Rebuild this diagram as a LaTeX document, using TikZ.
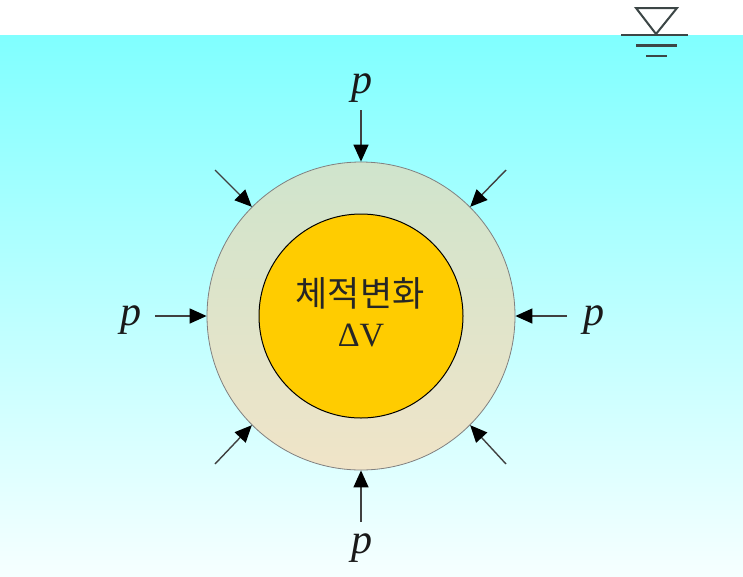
\documentclass[tikz,border=0pt]{standalone}
\usepackage{fontspec}
\setmainfont{Liberation Serif}
\newfontfamily\krfont{Noto Sans CJK KR}
\usetikzlibrary{arrows.meta}
\definecolor{watertop}{HTML}{80FFFF}
\definecolor{waterbot}{HTML}{F6FFFF}
\definecolor{ringtop}{HTML}{CFE4CC}
\definecolor{ringbot}{HTML}{F0E4C8}
\definecolor{core}{HTML}{FFCC00}
\definecolor{symb}{HTML}{3C4646}
\definecolor{arrline}{HTML}{404040}
\tikzset{
  arr/.style={draw=arrline, line width=1.4pt, -{Triangle[length=17pt,width=15pt,color=black]}},
  plabel/.style={font=\fontsize{42}{46}\selectfont\itshape, inner sep=0pt, text=black!90},
  wline/.style={draw=symb, line width=2.6pt}
}
\begin{document}
\begin{tikzpicture}[x=1pt,y=-1pt]
\useasboundingbox (0,0) rectangle (743,576);
\fill[white] (0,0) rectangle (743,576);
\shade[top color=watertop, bottom color=waterbot] (0,35) rectangle (743,576);
% water surface symbol
\draw[symb, line width=2pt, line join=miter] (636,8) -- (677,8) -- (656,34) -- cycle;
\draw[wline] (621,35) -- (688,35);
\draw[wline] (636,45.5) -- (677,45.5);
\draw[wline] (646,56) -- (667,56);
% sphere
\node[circle, draw=gray, line width=0.8pt, minimum size=308pt, inner sep=0pt,
      top color=ringtop, bottom color=ringbot] (outer) at (361,316) {};
\node[circle, draw=black, line width=1pt, minimum size=204pt, inner sep=0pt,
      fill=core] (inner) at (361,316) {};
\node[font=\krfont\fontsize{35}{40}\selectfont, text=black!85, inner sep=0pt] (kr) at (360,293) {체적변화};
\node[font=\fontsize{34}{38}\selectfont, text=black!85, inner sep=0pt] (dv) at (361,336) {ΔV};
% labels
\node[plabel] (pt) at (362,88) {p};
\node[plabel] (pb) at (362,548) {p};
\node[plabel] (pl) at (131,320) {p};
\node[plabel] (pr) at (594,320) {p};
% arrow start points
\coordinate (st) at (361,110);
\coordinate (sb) at (361,522);
\coordinate (sl) at (155,316);
\coordinate (sr) at (567,316);
\coordinate (stl) at (215,170);
\coordinate (str) at (506,170);
\coordinate (sbl) at (215,464);
\coordinate (sbr) at (506,464);
\draw[arr] (st) -- (outer.north);
\draw[arr] (sb) -- (outer.south);
\draw[arr] (sl) -- (outer.west);
\draw[arr] (sr) -- (outer.east);
\draw[arr] (stl) -- (outer.north west);
\draw[arr] (str) -- (outer.north east);
\draw[arr] (sbl) -- (outer.south west);
\draw[arr] (sbr) -- (outer.south east);
\end{tikzpicture}
\end{document}
